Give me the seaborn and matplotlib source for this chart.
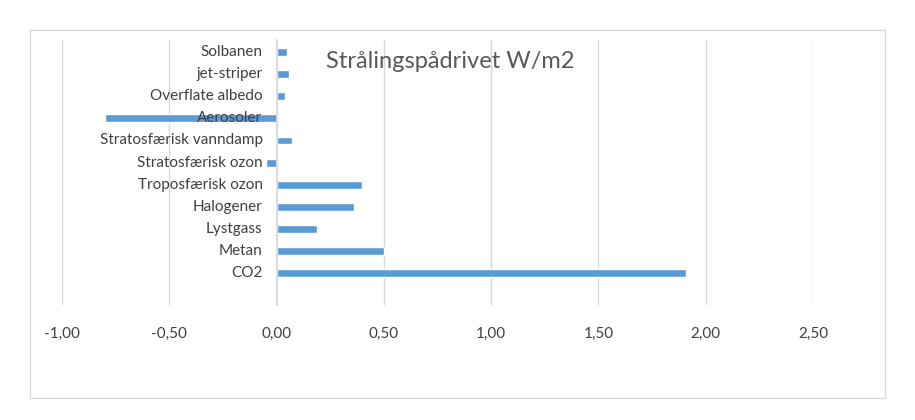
import matplotlib
matplotlib.use("Agg")
import matplotlib.pyplot as plt
import matplotlib.transforms as mtransforms
import seaborn as sns
import pandas as pd
from matplotlib.patches import Rectangle

categories = ["Solbanen", "jet-striper", "Overflate albedo", "Aerosoler",
              "Stratosfærisk vanndamp", "Stratosfærisk ozon", "Troposfærisk ozon",
              "Halogener", "Lystgass", "Metan", "CO2"]
values = [0.05, 0.06, 0.04, -0.80, 0.07, -0.05, 0.40, 0.36, 0.19, 0.50, 1.91]
xticks = [-1.0, -0.5, 0.0, 0.5, 1.0, 1.5, 2.0, 2.5]
xticklabels = ["-1,00", "-0,50", "0,00", "0,50", "1,00", "1,50", "2,00", "2,50"]

sns.set_theme(style="white")
plt.rcParams['font.family'] = ['Lato', 'DejaVu Sans']

df = pd.DataFrame({"cat": categories, "val": values})
fig = plt.figure(figsize=(9.15, 4.2), dpi=100)
ax = fig.add_axes([62/915, 115/420, 751/915, 265/420])
sns.barplot(data=df, y="cat", x="val", orient="h", color="#5B9BD5",
            width=0.36, ax=ax, saturation=1)
ax.set_xlim(-1.0, 2.5)
ax.set_ylim(len(categories) - 1 + 1.45, -0.55)
ax.set_xticks(xticks)
ax.set_xticklabels(xticklabels, fontsize=11, color="#404040")
ax.tick_params(axis="x", length=0, pad=16)
ax.set_yticklabels([])
ax.tick_params(axis="y", length=0)
ax.grid(axis="x", color="#d9d9d9", linewidth=1)
ax.set_axisbelow(True)
for s in ["top", "right", "bottom"]:
    ax.spines[s].set_visible(False)
ax.spines["left"].set_position(("data", 0))
ax.spines["left"].set_color("#d9d9d9")
ax.set_xlabel("")
ax.set_ylabel("")
off = mtransforms.offset_copy(ax.transData, fig=fig, x=-14, y=0, units="dots")
for i, c in enumerate(categories):
    ax.text(0, i, c, transform=off, ha="right", va="center", fontsize=11,
            color="#404040", zorder=10)
ax.text(450/915, 358/420, "Strålingspådrivet W/m2", transform=fig.transFigure,
        fontsize=17, color="#595959", ha="center", va="center")
fig.patches.append(Rectangle((30/915, 22/420), 855/915, 368/420, transform=fig.transFigure,
                             fill=False, edgecolor="#d9d9d9", linewidth=1))
fig.savefig("out.png", dpi=100)
